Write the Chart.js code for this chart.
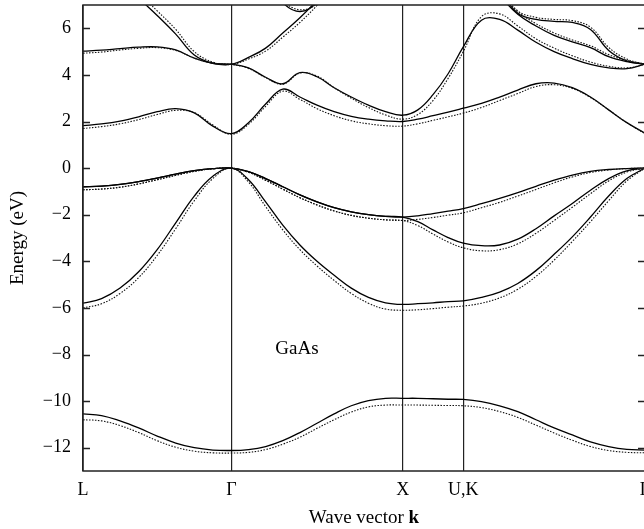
<!DOCTYPE html>
<html lang="en">
<head>
<meta charset="UTF-8">
<title>GaAs band structure</title>
<script src="https://cdn.jsdelivr.net/npm/chart.js@4"></script>
<style>
  html, body { margin: 0; padding: 0; background: #fff; overflow: hidden; }
  #wrap { width: 660px; height: 529px; }
</style>
</head>
<body>
<div id="wrap"><canvas id="bands"></canvas></div>
<script>
// k path L - Γ - X - U,K - Γ (units of 2π/a)
const kPath = [0, 0.1083, 0.2165, 0.3248, 0.4330, 0.5413, 0.6495, 0.7578, 0.8660,
  0.9660, 1.0660, 1.1660, 1.2660, 1.3660, 1.4660, 1.5660, 1.6660, 1.7660, 1.8660,
  1.9544, 2.0428, 2.1312, 2.2196,
  2.3257, 2.4317, 2.5378, 2.6439, 2.7499, 2.8560, 2.9621, 3.0682, 3.1742, 3.2803];
const kLabelPos = [0, 0.8660, 1.8660, 2.2196, 3.2803];
const kLabels = ['L', 'Γ', 'X', 'U,K', 'Γ'];
const yTicks = [-12, -10, -8, -6, -4, -2, 0, 2, 4, 6];

// solid curves
const v1 = [-10.55,-10.62,-10.85,-11.15,-11.5,-11.8,-12.0,-12.1,-12.12, -12.08,-11.95,-11.7,-11.35,-10.95,-10.55,-10.2,-9.98,-9.88,-9.88, -9.88,-9.9,-9.92,-9.93, -10.02,-10.2,-10.45,-10.8,-11.15,-11.45,-11.75,-11.95,-12.07,-12.1];
const v2 = [-5.8,-5.6,-5.15,-4.45,-3.5,-2.35,-1.2,-0.35,0, -0.5,-1.45,-2.45,-3.3,-4.0,-4.6,-5.15,-5.55,-5.78,-5.85, -5.82,-5.78,-5.73,-5.7, -5.55,-5.32,-4.95,-4.4,-3.7,-2.95,-2.1,-1.2,-0.45,0];
const v3 = [-0.8,-0.77,-0.7,-0.58,-0.43,-0.26,-0.11,-0.02,0, -0.15,-0.45,-0.8,-1.15,-1.45,-1.7,-1.88,-2.0,-2.07,-2.1, -2.3,-2.65,-2.98,-3.22, -3.33,-3.3,-3.05,-2.6,-2.05,-1.52,-0.95,-0.45,-0.12,0];
const v4 = [-0.8,-0.77,-0.7,-0.58,-0.43,-0.26,-0.11,-0.02,0, -0.15,-0.45,-0.8,-1.15,-1.45,-1.7,-1.88,-2.0,-2.07,-2.1, -2.05,-1.95,-1.85,-1.74, -1.53,-1.3,-1.05,-0.78,-0.52,-0.3,-0.14,-0.06,-0.02,0];
const c1 = [1.82,1.9,2.02,2.2,2.42,2.55,2.37,1.8,1.48, 1.95,2.75,3.39,3.05,2.7,2.42,2.22,2.1,2.03,2.0, 2.1,2.25,2.4,2.57, 2.78,3.05,3.35,3.62,3.65,3.45,3.05,2.5,1.95,1.5];
const c2 = [5.02,5.06,5.13,5.19,5.2,5.07,4.72,4.5,4.46, 4.3,3.9,3.62,4.1,3.92,3.45,3.05,2.7,2.42,2.27, 2.5,3.15,4.05,5.2, 6.35,6.38,5.92,5.4,5.0,4.7,4.45,4.3,4.27,4.46];
const c3 = [null,null,8.1,7.3,6.55,5.75,4.85,4.5,4.46, 4.75,5.15,5.8,6.45,7.2,8.0,null,null,null,null, null,null,null,null, null,null,null,null,null,null,null,null,null,null];
const c4 = [null,null,null,null,null,null,null,null,null, null,8.2,7.1,6.72,7.1,8.0,null,null,null,null, null,null,null,null, null,7.4,6.6,6.1,5.7,5.42,5.17,4.78,4.57,4.46];
const c5 = [null,null,null,null,null,null,null,null,null, null,null,null,null,null,null,null,null,null,null, null,null,null,null, null,7.6,6.65,6.38,6.3,6.25,5.95,5.05,4.6,4.46];

// dotted curves
const v1d = [-10.8,-10.85,-11.05,-11.35,-11.7,-11.98,-12.15,-12.22,-12.23, -12.2,-12.08,-11.85,-11.55,-11.17,-10.8,-10.47,-10.25,-10.17,-10.17, -10.17,-10.18,-10.19,-10.2, -10.28,-10.45,-10.7,-11.03,-11.37,-11.68,-11.95,-12.12,-12.2,-12.22];
const v2d = [-6.0,-5.82,-5.38,-4.7,-3.75,-2.6,-1.4,-0.45,0, -0.6,-1.65,-2.65,-3.5,-4.2,-4.82,-5.38,-5.8,-6.05,-6.1, -6.08,-6.03,-5.97,-5.92, -5.8,-5.57,-5.2,-4.65,-3.95,-3.15,-2.3,-1.4,-0.55,0];
const v3d = [-0.93,-0.9,-0.82,-0.68,-0.5,-0.31,-0.14,-0.03,0, -0.18,-0.52,-0.9,-1.27,-1.58,-1.84,-2.03,-2.15,-2.22,-2.25, -2.47,-2.83,-3.17,-3.42, -3.55,-3.5,-3.25,-2.8,-2.25,-1.68,-1.1,-0.55,-0.17,0];
const v4d = [-0.93,-0.9,-0.82,-0.68,-0.5,-0.31,-0.14,-0.03,0, -0.18,-0.52,-0.9,-1.27,-1.58,-1.84,-2.03,-2.15,-2.22,-2.25, -2.2,-2.12,-2.02,-1.92, -1.7,-1.47,-1.2,-0.92,-0.63,-0.38,-0.19,-0.08,-0.02,0];
const c1d = [1.7,1.78,1.9,2.08,2.3,2.48,2.38,1.85,1.45, 1.88,2.65,3.3,2.95,2.55,2.25,2.03,1.9,1.82,1.8, 1.9,2.05,2.2,2.36, 2.6,2.9,3.2,3.5,3.58,3.42,3.03,2.5,1.95,1.48];
const c2d = [4.93,4.98,5.07,5.14,5.17,5.05,4.72,4.5,4.45, 4.28,3.88,3.6,4.08,3.95,3.45,3.0,2.6,2.28,2.1, 2.3,2.9,3.85,5.0, 6.5,6.62,6.1,5.55,5.15,4.82,4.55,4.37,4.3,4.45];
const c3d = [null,null,8.3,7.5,6.75,5.95,5.0,4.55,4.45, 4.68,5.02,5.62,6.25,6.98,7.8,null,null,null,null, null,null,null,null, null,null,null,null,null,null,null,null,null,null];
const c4d = [null,null,null,null,null,null,null,null,null, null,8.3,7.2,6.8,7.05,7.9,null,null,null,null, null,null,null,null, null,7.5,6.72,6.2,5.8,5.5,5.25,4.87,4.62,4.46];
const c5d = [null,null,null,null,null,null,null,null,null, null,null,null,null,null,null,null,null,null,null, null,null,null,null, null,7.7,6.75,6.47,6.38,6.33,6.05,5.18,4.68,4.46];

const solidBands = [v1, v2, v3, v4, c1, c2, c3, c4, c5];
const dottedBands = [v1d, v2d, v3d, v4d, c1d, c2d, c3d, c4d, c5d];

const materialLabel = { text: 'GaAs', k: 1.249, e: -7.77 };

const serif = '"Liberation Serif", "DejaVu Serif", serif';

function toPoints(values) {
    return kPath.map((k, i) => ({ x: k, y: values[i] }));
}

const datasets = [];
dottedBands.forEach(b => datasets.push({
    data: toPoints(b), borderColor: '#111', borderWidth: 1.1,
    borderDash: [1.5, 1.5], pointRadius: 0, tension: 0.4, fill: false
}));
solidBands.forEach(b => datasets.push({
    data: toPoints(b), borderColor: '#000', borderWidth: 1.3,
    pointRadius: 0, tension: 0.4, fill: false
}));

// frame, inward ticks, label and x title with bold k
const framePlugin = {
    id: 'frame',
    afterDraw(chart) {
        const { ctx, chartArea: a, scales: { x, y } } = chart;
        ctx.save();
        ctx.strokeStyle = '#222';
        ctx.lineWidth = 1.5;
        ctx.strokeRect(a.left, a.top, a.right - a.left, a.bottom - a.top);
        y.ticks.forEach(t => {
            const py = Math.round(y.getPixelForValue(t.value)) + 0.5;
            ctx.beginPath();
            ctx.moveTo(a.left, py); ctx.lineTo(a.left + 7, py);
            ctx.moveTo(a.right, py); ctx.lineTo(a.right - 7, py);
            ctx.stroke();
        });

        ctx.fillStyle = '#000';
        ctx.textBaseline = 'middle';
        ctx.textAlign = 'center';
        ctx.font = '19px ' + serif;
        ctx.fillText(materialLabel.text, x.getPixelForValue(materialLabel.k), y.getPixelForValue(materialLabel.e));

        const part1 = 'Wave vector ';
        const part2 = 'k';
        ctx.font = '19px ' + serif;
        const w1 = ctx.measureText(part1).width;
        ctx.font = 'bold 19px ' + serif;
        const w2 = ctx.measureText(part2).width;
        const cx = (a.left + a.right) / 2;
        const ty = x.bottom - 11;
        ctx.textAlign = 'left';
        ctx.font = '19px ' + serif;
        ctx.fillText(part1, cx - (w1 + w2) / 2, ty);
        ctx.font = 'bold 19px ' + serif;
        ctx.fillText(part2, cx - (w1 + w2) / 2 + w1, ty);
        ctx.restore();
    }
};

new Chart(document.getElementById('bands'), {
    type: 'line',
    data: { datasets: datasets },
    options: {
        responsive: true,
        maintainAspectRatio: false,
        animation: false,
        layout: { padding: { left: 0, top: 5, right: 15, bottom: 0 } },
        plugins: { legend: { display: false }, tooltip: { enabled: false } },
        scales: {
            x: {
                type: 'linear',
                min: kPath[0],
                max: kPath[kPath.length - 1],
                afterBuildTicks: s => { s.ticks = kLabelPos.map(v => ({ value: v })); },
                afterFit: s => { s.height = 58; s.paddingLeft = 0; s.paddingRight = 0; },
                grid: { color: '#222', lineWidth: 1.2, drawTicks: false },
                border: { display: false },
                ticks: {
                    padding: 8, color: '#000', maxRotation: 0, autoSkip: false,
                    font: { family: serif, size: 18 },
                    callback: (v, i) => kLabels[i]
                }
            },
            y: {
                min: -13,
                max: 7,
                afterBuildTicks: s => { s.ticks = yTicks.map(v => ({ value: v })); },
                afterFit: s => { s.width = 83; s.paddingTop = 0; s.paddingBottom = 0; },
                grid: { display: false, drawTicks: false },
                border: { display: false },
                ticks: {
                    padding: 12, color: '#000',
                    font: { family: serif, size: 18 },
                    callback: v => String(v).replace('-', '\u2212')
                },
                title: {
                    display: true, text: 'Energy (eV)', color: '#000',
                    font: { family: serif, size: 19 },
                    padding: { top: 7, bottom: 0 }
                }
            }
        }
    },
    plugins: [framePlugin]
});
</script>
</body>
</html>
